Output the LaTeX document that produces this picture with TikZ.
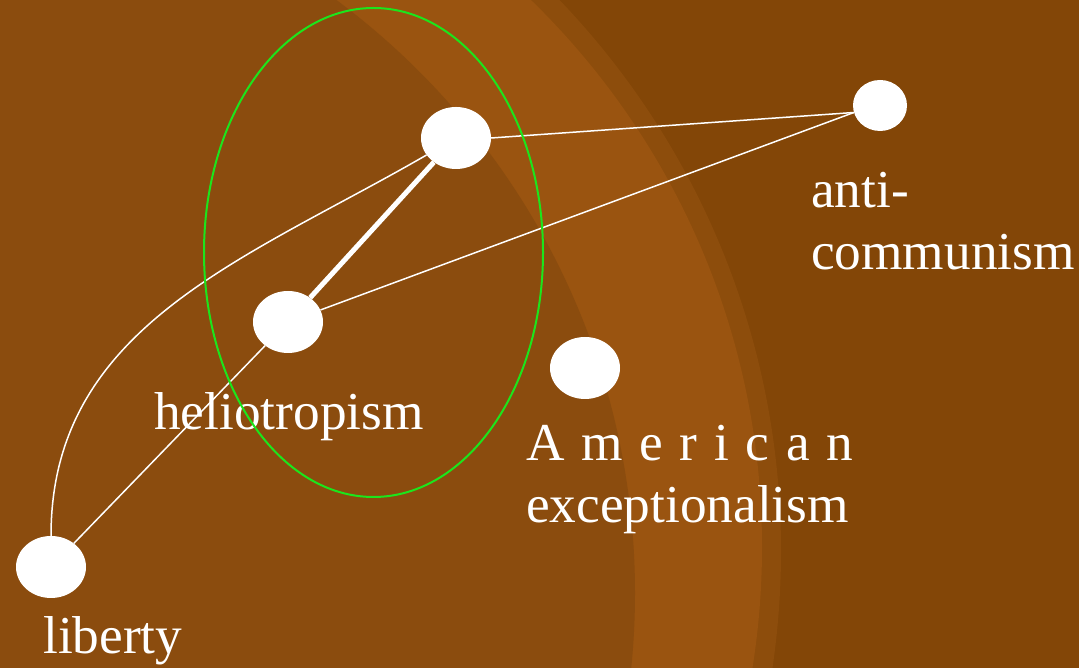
\documentclass[tikz,border=0pt]{standalone}
\usepackage{fontspec}
\setmainfont{Liberation Serif}
\usetikzlibrary{shapes.geometric,positioning}
\definecolor{basebrown}{HTML}{8B4C0E}
\definecolor{lightbrown}{HTML}{9A5410}
\definecolor{midbrown}{HTML}{8D4D0C}
\definecolor{darkbrown}{HTML}{834607}
\definecolor{ringgreen}{HTML}{1CE51C}

\begin{document}
\begin{tikzpicture}[x=1pt, y=1pt,
    concept/.style={ellipse, fill=white, minimum width=70pt, minimum height=62pt, inner sep=0pt},
    tie/.style={white, line width=1.5pt},
    strongtie/.style={white, line width=5pt},
    caption/.style={text=white, font=\fontsize{53.3}{62}\selectfont, anchor=base west,
                    inner sep=0pt, align=left},
    cluster/.style={ellipse, draw=ringgreen, line width=2pt, minimum width=339pt,
                    minimum height=489pt, inner sep=0pt}
]

% --- background ---
\useasboundingbox (0,0) rectangle (1079,668);
\begin{scope}
  \clip (0,0) rectangle (1079,668);
  \fill[darkbrown] (0,0) rectangle (1079,668);
  \fill[midbrown] (-15,117) circle (796pt);
  \fill[lightbrown] (-1,121) circle (763pt);
  \fill[basebrown] (-103,75) circle (738pt);
\end{scope}

% --- concepts ---
\node[concept] (apex) at (456,530) {};
\node[concept] (helio) at (288,346) {};
\node[concept] (amer) at (585,300) {};
\node[concept] (liberty) at (51,101) {};
\node[concept, minimum width=54pt, minimum height=51pt] (anti) at (880,562.5) {};

% --- captions (base = last line) ---
\node[caption] (antilbl) at (811,398) {anti-\\communism};
\node[caption] (heliolbl) at (154,238) {heliotropism};
\node[caption] (amerlbl) at (526,145) {\makebox[327pt][s]{A m e r i c a n}\\exceptionalism};
\node[caption] (libertylbl) at (43,14) {liberty};

% --- links ---
\draw[tie] (apex.east) -- (anti.195);
\draw[tie] (helio) -- (anti.195);
\draw[strongtie] (apex) -- (helio);
\draw[tie] (liberty) -- (helio);
\draw[tie] (liberty) to[out=90, in=210] (apex);

% --- cluster ---
\node[cluster] (core) at (373.5,415.5) {};

\end{tikzpicture}
\end{document}
